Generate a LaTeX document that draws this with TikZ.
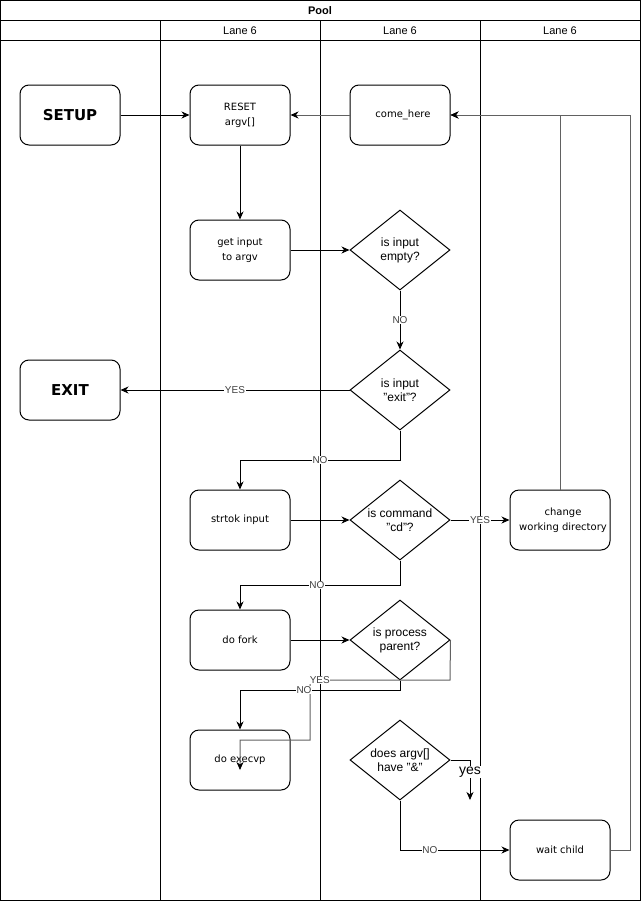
\documentclass[tikz,border=0pt]{standalone}
\usepackage{fontspec}
\setmainfont{Liberation Sans}
\newfontfamily\boxfont{DejaVu Sans}
\usetikzlibrary{arrows.meta,shapes.geometric}
\begin{document}
\begin{tikzpicture}[x=1pt,y=-1pt,line width=1pt,
  tip/.tip={Stealth[length=8pt,width=7pt,inset=2.5pt]},
  arr/.style={draw=black,-{tip}},
  arrg/.style={draw=black!62,-{Stealth[length=8pt,width=7pt,inset=2.5pt,color=black]}},
  box/.style={draw,fill=white,rounded corners=9pt,minimum width=100pt,minimum height=60pt,
    inner sep=0pt,align=center,font=\boxfont\fontsize{10}{15}\selectfont},
  bigbox/.style={box,font=\boxfont\bfseries\fontsize{15}{18}\selectfont},
  dia/.style={draw,fill=white,diamond,aspect=1.25,minimum width=100pt,minimum height=80pt,inner sep=0pt},
  dtext/.style={align=center,inner sep=0pt,font=\fontsize{12}{14}\selectfont},
  lbl/.style={fill=white,inner sep=0.6pt,text=black!75,font=\fontsize{10}{12}\selectfont},
  lanehd/.style={font=\fontsize{11}{12}\selectfont},
]
\useasboundingbox (0,0) rectangle (641,902);

% pool frame and lanes
\draw (0.5,0.5) rectangle (640,900);
\draw (0.5,20) -- (640,20);
\draw (0.5,40) -- (640,40);
\foreach \x in {160,320,480} \draw (\x,20) -- (\x,900);
\node[font=\bfseries\fontsize{11}{13}\selectfont] (pool) at (320,11) {Pool};
\node[lanehd] (lane1) at (240,30.5) {Lane 6};
\node[lanehd] (lane2) at (400,30.5) {Lane 6};
\node[lanehd] (lane3) at (560,30.5) {Lane 6};

% process steps
\node[bigbox] (setup)  at (70,115)  {SETUP};
\node[box]    (reset)  at (240,115) {RESET\\argv[]};
\node[box]    (come)   at (400,115) {\hspace*{6pt}come\_here};
\node[box]    (getin)  at (240,250) {get input\\to argv};
\node[bigbox] (exit)   at (70,390)  {EXIT};
\node[box]    (strtok) at (240,520) {strtok input};
\node[box]    (chg)    at (560,520) {\hspace*{6pt}change\\\hspace*{6pt}working directory};
\node[box]    (fork)   at (240,640) {do fork};
\node[box]    (execvp) at (240,760) {do execvp};
\node[box]    (wait)   at (560,850) {wait child};

% decisions
\node[dia] (d1) at (400,250) {};
\node[dtext] (d1t) at (d1) {is input\\empty?};
\node[dia] (d2) at (400,390) {};
\node[dtext] (d2t) at (d2) {is input\\"exit"?};
\node[dia] (d3) at (400,520) {};
\node[dtext] (d3t) at (d3) {is command\\"cd"?};
\node[dia] (d4) at (400,640) {};
\node[dtext] (d4t) at (d4) {is process\\parent?};
\node[dia] (d5) at (400,760) {};
\node[dtext] (d5t) at (d5) {does argv[]\\have "\&"};

\coordinate (execin) at (240,770);
\coordinate (yesend) at (470,800);

% connectors
\draw[arr] (setup) -- (reset);
\draw[arrg] (come) -- (reset);
\draw[arr] (reset) -- (getin);
\draw[arr] (getin) -- (d1);
\draw[arr] (d1) -- node[lbl]{NO} (d2);
\draw[arr] (d2) -- node[lbl]{YES} (exit);
\draw[arr] (d2.south) -- (400,460) -| node[lbl,pos=0.25]{NO} (strtok.north);
\draw[arr] (strtok) -- (d3);
\draw[arr] (d3) -- node[lbl]{YES} (chg);
\draw[arr] (d3.south) -- (400,585) -| node[lbl,pos=0.26]{NO} (fork.north);
\draw[arrg] (chg.north) |- (come.east);
\draw[arrg] (wait.east) -- (630,850) |- (come.east);
\draw[arr] (fork) -- (d4);
\draw[arrg] (d4.east) -- (450,680) -- node[lbl,pos=0.93]{YES} (310,680) -- (310,740) -- (240,740) -- (execin);
\draw[arr] (d4.south) -- (400,690) -| node[lbl,pos=0.3]{NO} (execvp.north);
\draw[arr] (d5.east) -- (470,760) -- node[lbl,pos=0.3,text=black,font=\fontsize{14}{16}\selectfont]{yes} (yesend);
\draw[arr] (d5.south) |- node[lbl,pos=0.636]{NO} (wait.west);
\end{tikzpicture}
\end{document}
